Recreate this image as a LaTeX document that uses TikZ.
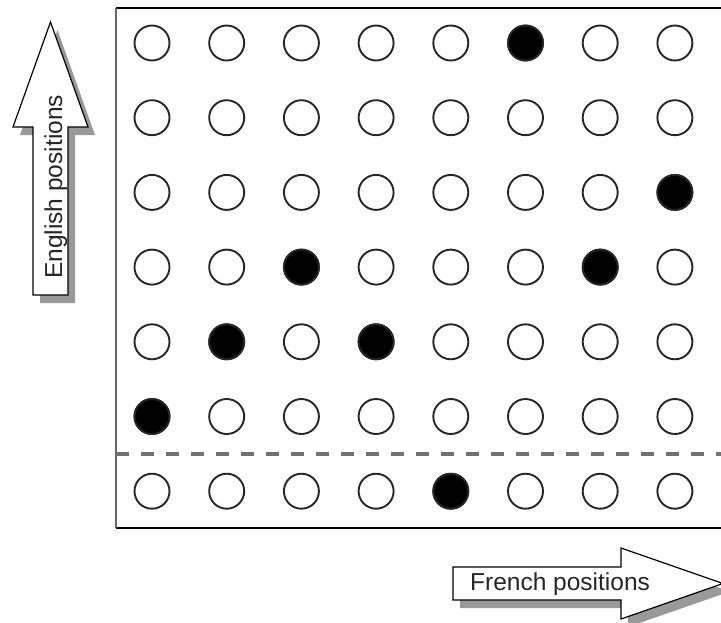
\documentclass[tikz,border=0pt]{standalone}
\usepackage{fontspec}
\setmainfont{Liberation Sans}
\begin{document}
\begin{tikzpicture}[x=1pt,y=-1pt,
  dot/.style={circle,draw=black!85,line width=1.9pt,minimum size=35pt,inner sep=0pt},
  full/.style={dot,fill=black},
  arrowbody/.style={draw=black,line width=1.2pt,fill=white},
  arrowshadow/.style={fill=black!40,draw=none},
  lbl/.style={font=\fontsize{24.5}{28}\selectfont,inner sep=0pt,text=black!85}]
\useasboundingbox (0,0) rectangle (721,622);
\clip (0,0) rectangle (721,622);
% frame
\draw[line width=1.6pt,black] (116,8) -- (730,8);
\draw[line width=1.6pt,black] (116,528) -- (730,528);
\draw[line width=2pt,black!60] (116,8) -- (116,528);
% dashed separator
\draw[black!55,line width=3.2pt,dash pattern=on 13pt off 12pt] (116,454) -- (730,454);
% circles
\foreach \r in {1,...,7}{
  \foreach \c in {1,...,8}{
    \node[dot] (c-\r-\c) at ({152+74.7*(\c-1)},{43+74.7*(\r-1)}) {};
  }
}
\foreach \r/\c in {1/6,3/8,4/3,4/7,5/2,5/4,6/1,7/5}{
  \node[full] at (c-\r-\c) {};
}
% English arrow (up)
\begin{scope}[shift={(7,8)}]
\fill[arrowshadow] (33,295) -- (33,127) -- (13,127) -- (50.5,22) -- (88,127) -- (68,127) -- (68,295) -- cycle;
\end{scope}
\draw[arrowbody] (33,295) -- (33,127) -- (13,127) -- (50.5,22) -- (88,127) -- (68,127) -- (68,295) -- cycle;
\node[lbl,rotate=90,anchor=base west] (eng) at (62,279) {English positions};
% French arrow (right)
\begin{scope}[shift={(7,8)}]
\fill[arrowshadow] (453,567) -- (621,567) -- (621,548) -- (723,583.5) -- (621,619) -- (621,600) -- (453,600) -- cycle;
\end{scope}
\draw[arrowbody] (453,567) -- (621,567) -- (621,548) -- (723,583.5) -- (621,619) -- (621,600) -- (453,600) -- cycle;
\node[lbl,anchor=base west] (fr) at (470,590) {French positions};
\end{tikzpicture}
\end{document}
